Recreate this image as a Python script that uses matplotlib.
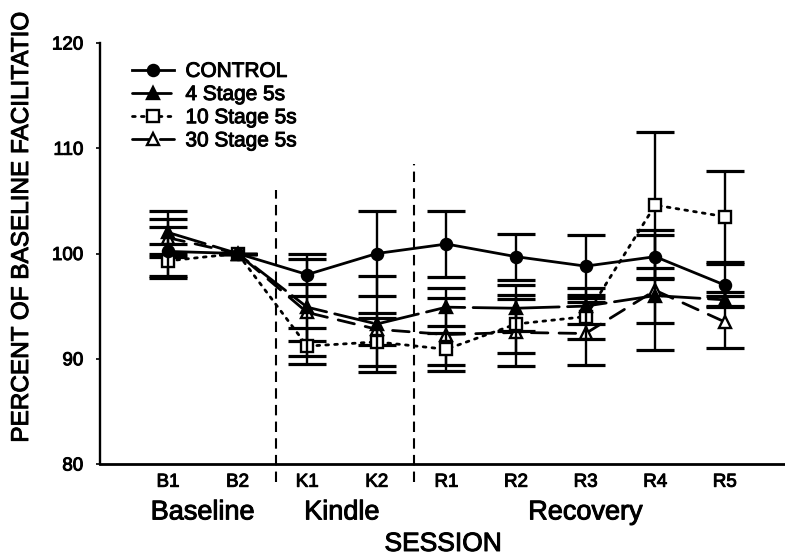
import matplotlib
matplotlib.use("Agg")
import matplotlib.pyplot as plt
import matplotlib.patheffects as pe

plt.rcParams['font.family'] = ['Liberation Sans', 'DejaVu Sans']

sessions = ['B1', 'B2', 'K1', 'K2', 'R1', 'R2', 'R3', 'R4', 'R5']
phases = ['Baseline', 'Kindle', 'Recovery']

control = [100.2, 100.0, 98.0, 100.0, 100.9, 99.7, 98.8, 99.7, 97.0]
control_se = [2.3, 0.0, 2.0, 4.0, 3.1, 2.2, 3.0, 2.1, 2.0]

stage4 = [102.0, 100.0, 94.9, 93.3, 94.9, 94.8, 95.0, 96.0, 95.6]
stage4_se = [2.0, 0.0, 4.6, 4.6, 1.8, 2.2, 1.7, 2.6, 0.7]

stage10 = [99.3, 100.0, 91.2, 91.6, 90.9, 93.3, 94.0, 104.6, 103.5]
stage10_se = [1.6, 0.0, 1.7, 2.3, 1.5, 2.8, 2.1, 6.9, 4.3]

stage30 = [101.5, 100.0, 94.4, 92.8, 92.3, 92.5, 92.4, 96.5, 93.5]
stage30_se = [1.8, 0.0, 2.7, 1.5, 3.5, 3.2, 3.0, 5.7, 2.5]

# slightly heavier lettering
heavy = [pe.withStroke(linewidth=0.7, foreground='black')]

fig = plt.figure(figsize=(7.85, 5.58), dpi=100)
ax = fig.add_axes([100 / 785, 94 / 558, 685 / 785, 421 / 558])

x = list(range(len(sessions)))

series = [
    ('30 Stage 5s', stage30, stage30_se, dict(marker='^', mfc='white', ls=(0, (6, 4))), 2),
    ('10 Stage 5s', stage10, stage10_se, dict(marker='s', mfc='white', ls=(0, (1, 2.2))), 3),
    ('4 Stage 5s', stage4, stage4_se, dict(marker='^', mfc='black', ls=(0, (14, 3))), 4),
    ('CONTROL', control, control_se, dict(marker='o', mfc='black', ls='-'), 5),
]

handles = {}
for name, vals, errs, style, z in series:
    ax.errorbar(x, vals, yerr=errs, fmt='none', ecolor='black',
                elinewidth=1.7, capsize=14, capthick=2.3, zorder=z)
    ln, = ax.plot(x, vals, color='black', lw=2.0, ms=8, mec='black',
                  mew=1.7, dash_capstyle='round', zorder=z + 0.5, label=name,
                  **style)
    handles[name] = ln

# phase separators
for xb, ytop in [(1.55, 106.0), (3.53, 108.5)]:
    ax.plot([xb, xb], [78.3, ytop], color='black', lw=1.5,
            ls=(0, (5, 3)), clip_on=False, zorder=1)

ax.set_xlim(-0.977, 8.865)
ax.set_ylim(80, 120)
ax.set_yticks([80, 90, 100, 110, 120])
ax.set_xticks(x)
ax.set_xticklabels(sessions, fontsize=13.5)
ax.tick_params(axis='y', labelsize=13.5, length=3, width=1.2, pad=9)
ax.tick_params(axis='x', length=0, pad=7)
for lbl in ax.get_xticklabels() + ax.get_yticklabels():
    lbl.set_path_effects(heavy)
for s in ['top', 'right']:
    ax.spines[s].set_visible(False)
ax.spines['left'].set_linewidth(1.7)
ax.spines['bottom'].set_linewidth(2.0)

# phase names under the session ticks
for label, xc in zip(phases, [0.5, 2.5, 6.0]):
    ax.text(xc, -0.115, label, transform=ax.get_xaxis_transform(),
            ha='center', va='center', fontsize=19.5, path_effects=heavy)
ax.text(3.95, -0.19, 'SESSION', transform=ax.get_xaxis_transform(),
        ha='center', va='center', fontsize=19, path_effects=heavy)

fig.text(22 / 785, 1 - 228 / 558, 'PERCENT OF BASELINE FACILITATIO',
         rotation=90, ha='center', va='center', fontsize=17.5,
         path_effects=heavy)

order = ['CONTROL', '4 Stage 5s', '10 Stage 5s', '30 Stage 5s']
leg = ax.legend([handles[n] for n in order], order, loc='upper left',
                bbox_to_anchor=(0.035, 0.975), frameon=False, fontsize=15,
                handlelength=2.0, handletextpad=0.55, labelspacing=0.2,
                borderaxespad=0)
for t in leg.get_texts():
    t.set_path_effects(heavy)

fig.savefig('out.png', dpi=100)
